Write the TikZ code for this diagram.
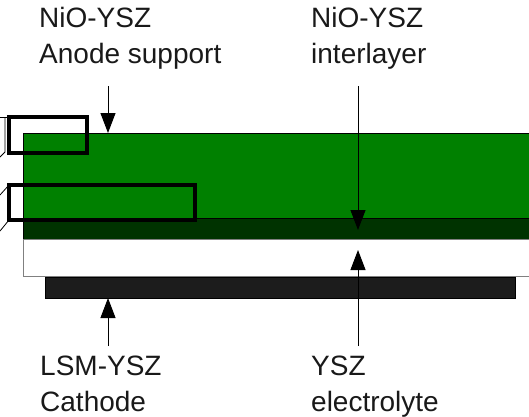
\documentclass[tikz,border=0pt]{standalone}
\usepackage{fontspec}
\setmainfont{Liberation Sans}
\usetikzlibrary{arrows.meta}
\definecolor{anodegreen}{RGB}{0,128,0}
\definecolor{interdark}{RGB}{0,51,0}
\definecolor{cathodeblack}{RGB}{28,28,28}

\begin{document}
\begin{tikzpicture}[x=1pt, y=-1pt, line join=miter,
	lbl/.style={anchor=base west, inner sep=0pt, align=left, font=\fontsize{28}{36}\selectfont, text=black!90},
	pointer/.style={-{Triangle[length=20pt, width=15pt]}, line width=1pt},
	zoombox/.style={draw, line width=3.5pt, inner sep=0pt, outer sep=0pt},
	guide/.style={line width=0.8pt}]
	\useasboundingbox (0,0) rectangle (529,416);
	% cell layers
	\filldraw[fill=anodegreen, draw=black, line width=0.8pt] (23,133) rectangle (535,218);
	\filldraw[fill=interdark, draw=black, line width=0.8pt] (23,218) rectangle (535,239);
	\filldraw[fill=white, draw=gray, line width=0.8pt] (23,239) rectangle (535,276);
	\filldraw[fill=cathodeblack, draw=black, line width=0.8pt] (45,277) rectangle (515,298);
	% zoomed regions
	\node[zoombox, minimum width=78, minimum height=36] (box1) at (48,135) {};
	\node[zoombox, minimum width=186, minimum height=35] (box2) at (102,202.5) {};
	\draw[guide] (box1.north west) -- (0,117);
	\draw[guide] (5,117) -- (5,152) -- (0,157);
	\draw[guide] (box2.north west) -- (0,195);
	\draw[guide] (box2.south west) -- (0,231);
	% labels (anchored at the last line)
	\node[lbl] (anodelbl) at (39,63) {NiO-YSZ\\Anode support};
	\node[lbl] (interlbl) at (311,63) {NiO-YSZ\\interlayer};
	\node[lbl] (cathlbl) at (40,411) {LSM-YSZ\\Cathode};
	\node[lbl] (eleclbl) at (311,411) {YSZ\\electrolyte};
	% pointers
	\coordinate (anodetail) at (108,86);
	\coordinate (anodetip) at (108,133);
	\coordinate (intertail) at (358,86);
	\coordinate (intertip) at (358,230);
	\coordinate (cathtail) at (108,346);
	\coordinate (cathtip) at (108,298);
	\coordinate (electail) at (358,346);
	\coordinate (electip) at (358,250);
	\foreach \a in {anode, inter, cath, elec}
		\draw[pointer] (\a tail) -- (\a tip);
\end{tikzpicture}
\end{document}
